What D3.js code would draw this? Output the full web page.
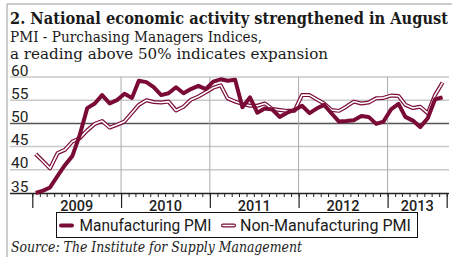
<!DOCTYPE html>
<html>
<head>
<meta charset="utf-8">
<script src="https://cdn.jsdelivr.net/npm/d3@7"></script>
<style>
  html, body { margin: 0; padding: 0; background: #fff; }
  svg { display: block; }
</style>
</head>
<body>
<div id="chart"></div>
<script>
// Monthly readings, Jan 2009 - Aug 2013
const startYear = 2009;
const manufacturing = [
  35.0, 35.5, 36.2, 38.7, 41.0, 43.0, 47.5, 53.3, 54.3, 56.1, 54.3, 55.0,
  56.4, 55.5, 59.2, 58.9, 57.8, 56.1, 56.5, 57.8, 56.5, 57.4, 58.1, 57.4,
  59.0, 59.5, 59.2, 59.4, 53.5, 55.6, 52.3, 53.2, 53.0, 51.4, 52.3, 52.9,
  53.8, 52.2, 53.2, 54.0, 52.2, 50.4, 50.5, 50.7, 51.6, 51.4, 49.9, 50.4,
  53.0, 54.2, 51.4, 50.6, 49.2, 51.1, 55.2, 55.6
];
const nonManufacturing = [
  43.4, 41.8, 40.3, 43.6, 44.3, 46.1, 46.8, 48.5, 49.9, 50.5, 49.1, 49.7,
  50.4, 52.3, 54.0, 55.0, 54.6, 54.5, 54.7, 52.8, 53.6, 55.1, 55.8, 56.7,
  57.7, 58.2, 55.4, 54.7, 54.2, 53.8, 53.8, 54.3, 53.1, 52.9, 52.7, 52.7,
  56.1, 56.1, 55.2, 54.3, 52.9, 52.7, 53.6, 54.7, 54.3, 54.5, 55.4, 55.5,
  56.0, 55.9, 54.0, 53.3, 53.6, 52.2, 56.1, 58.8
];
const yTicks = [35, 40, 45, 50, 55, 60];
const years = [2009, 2010, 2011, 2012, 2013];
const seriesNames = ['Manufacturing PMI', 'Non-Manufacturing PMI'];

const W = 452, H = 257;
const maroon = '#7a0b37';

const svg = d3.select('#chart').append('svg')
  .attr('width', W)
  .attr('height', H);

// outer frame (top + left rule)
svg.append('line').attr('x1', 7).attr('x2', W).attr('y1', 4).attr('y2', 4)
  .attr('stroke', '#999').attr('stroke-width', 1);
svg.append('line').attr('x1', 7).attr('x2', 7).attr('y1', 4).attr('y2', H)
  .attr('stroke', '#999').attr('stroke-width', 1);

// titles
svg.append('text')
  .attr('x', 10).attr('y', 24)
  .attr('font-family', 'DejaVu Serif')
  .attr('font-weight', 'bold')
  .attr('font-size', '17px')
  .attr('fill', '#1a1a1a')
  .attr('textLength', 438)
  .attr('lengthAdjust', 'spacingAndGlyphs')
  .text('2. National economic activity strengthened in August');

svg.append('text')
  .attr('x', 10).attr('y', 41.5)
  .attr('font-family', 'DejaVu Serif')
  .attr('font-size', '15px')
  .attr('fill', '#1a1a1a')
  .attr('textLength', 252)
  .attr('lengthAdjust', 'spacingAndGlyphs')
  .text('PMI - Purchasing Managers Indices,');

svg.append('text')
  .attr('x', 10).attr('y', 59)
  .attr('font-family', 'DejaVu Serif')
  .attr('font-size', '15px')
  .attr('fill', '#1a1a1a')
  .attr('textLength', 318)
  .attr('lengthAdjust', 'spacingAndGlyphs')
  .text('a reading above 50% indicates expansion');

// scales
const x = d3.scaleTime()
  .domain([new Date(startYear, 0, 1), new Date(startYear + 4, 8, 1)])
  .range([32.3, 446.7]);
const y = d3.scaleLinear().domain([35, 60]).range([193, 77]);

const dates = manufacturing.map((d, i) => new Date(startYear, i, 15));

// horizontal gridlines
svg.append('g').selectAll('line')
  .data(yTicks.filter(t => t !== 35))
  .join('line')
  .attr('x1', 10).attr('x2', 449)
  .attr('y1', d => y(d)).attr('y2', d => y(d))
  .attr('stroke', d => d === 50 ? '#555' : '#c9c9c9')
  .attr('stroke-width', 1.5);

// year gridlines
svg.append('g').selectAll('line')
  .data(years.slice(1))
  .join('line')
  .attr('x1', d => x(new Date(d, 0, 1))).attr('x2', d => x(new Date(d, 0, 1)))
  .attr('y1', y(60)).attr('y2', y(35))
  .attr('stroke', '#aaa')
  .attr('stroke-width', 1);

// y labels, sitting on their gridlines
svg.append('g').selectAll('text')
  .data(yTicks)
  .join('text')
  .attr('x', 11)
  .attr('y', d => y(d) - 1.5)
  .attr('font-family', 'Roboto')
  .attr('font-size', '15.5px')
  .attr('fill', '#222')
  .text(d => d);

// x axis: month ticks + year ticks
const monthAxis = d3.axisBottom(x)
  .ticks(d3.timeMonth.every(1))
  .tickSize(4)
  .tickFormat('');
const gm = svg.append('g').attr('transform', `translate(0,${y(35)})`).call(monthAxis);
gm.select('.domain').attr('d', `M10,0.5H449`).attr('stroke', '#222').attr('stroke-width', 1.5);
gm.selectAll('.tick line').attr('stroke', '#222');

const yearAxis = d3.axisBottom(x)
  .tickValues(years.map(yr => new Date(yr, 0, 1)).concat([new Date(startYear + 4, 8, 1)]))
  .tickSize(15)
  .tickFormat('');
const gy = svg.append('g').attr('transform', `translate(0,${y(35)})`).call(yearAxis);
gy.select('.domain').remove();
gy.selectAll('.tick line').attr('stroke', '#222').attr('stroke-width', 1.2);

// year labels centred in each year span
svg.append('g').selectAll('text')
  .data(years)
  .join('text')
  .attr('x', d => (x(new Date(d, 0, 1)) + x(d === 2013 ? new Date(2013, 8, 1) : new Date(d + 1, 0, 1))) / 2)
  .attr('y', 210.5)
  .attr('text-anchor', 'middle')
  .attr('font-family', 'Roboto')
  .attr('font-weight', 500)
  .attr('font-size', '14.5px')
  .attr('fill', '#222')
  .text(d => d);

// lines
const line = d3.line()
  .x((d, i) => x(dates[i]))
  .y(d => y(d));

svg.append('path')
  .datum(nonManufacturing)
  .attr('d', line)
  .attr('fill', 'none')
  .attr('stroke', maroon)
  .attr('stroke-width', 4)
  .attr('stroke-linejoin', 'round');
svg.append('path')
  .datum(nonManufacturing)
  .attr('d', line)
  .attr('fill', 'none')
  .attr('stroke', '#fff')
  .attr('stroke-width', 1.6)
  .attr('stroke-linejoin', 'round');

svg.append('path')
  .datum(manufacturing)
  .attr('d', line)
  .attr('fill', 'none')
  .attr('stroke', maroon)
  .attr('stroke-width', 4)
  .attr('stroke-linejoin', 'round');

// legend
const legend = svg.append('g');
legend.append('rect')
  .attr('x', 56.5).attr('y', 212.5)
  .attr('width', 361).attr('height', 25)
  .attr('fill', '#fff')
  .attr('stroke', '#111')
  .attr('stroke-width', 1);

legend.append('line')
  .attr('x1', 61).attr('x2', 72).attr('y1', 225.5).attr('y2', 225.5)
  .attr('stroke', maroon).attr('stroke-width', 4).attr('stroke-linecap', 'round');

legend.append('line')
  .attr('x1', 223).attr('x2', 234).attr('y1', 225.5).attr('y2', 225.5)
  .attr('stroke', maroon).attr('stroke-width', 4).attr('stroke-linecap', 'round');
legend.append('line')
  .attr('x1', 223).attr('x2', 234).attr('y1', 225.5).attr('y2', 225.5)
  .attr('stroke', '#fff').attr('stroke-width', 1.6).attr('stroke-linecap', 'round');

legend.selectAll('text.lbl')
  .data(seriesNames)
  .join('text')
  .attr('class', 'lbl')
  .attr('x', (d, i) => i === 0 ? 79.5 : 240)
  .attr('y', 231)
  .attr('font-family', 'Roboto')
  .attr('font-size', '16.5px')
  .attr('fill', '#1a1a1a')
  .attr('textLength', (d, i) => i === 0 ? 132 : 171)
  .attr('lengthAdjust', 'spacingAndGlyphs')
  .text(d => d);

// source
svg.append('text')
  .attr('x', 11).attr('y', 251.5)
  .attr('font-family', 'DejaVu Serif')
  .attr('font-style', 'italic')
  .attr('font-size', '14.5px')
  .attr('fill', '#222')
  .attr('textLength', 291)
  .attr('lengthAdjust', 'spacingAndGlyphs')
  .text('Source: The Institute for Supply Management');
</script>
</body>
</html>
